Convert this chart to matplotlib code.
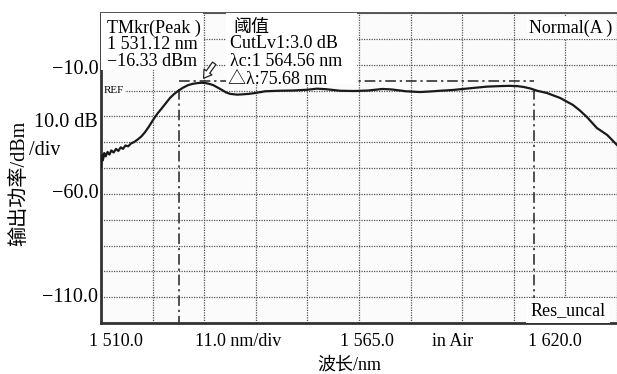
import matplotlib
matplotlib.use("Agg")
import matplotlib.pyplot as plt
from matplotlib.patches import Rectangle
import numpy as np

plt.rcParams['font.family'] = ['Liberation Serif', 'Noto Sans CJK SC']

# spectrum trace (nm, dBm)
wavelength = [1510.0, 1510.2, 1510.4, 1510.7, 1511.0, 1511.4, 1511.8, 1512.2,
              1512.7, 1513.2, 1513.7, 1514.2, 1514.7, 1515.2, 1515.8, 1516.4,
              1517.0, 1517.8, 1518.6, 1519.4, 1520.2, 1521.1, 1522.0, 1523.0,
              1524.0, 1524.7, 1525.5, 1526.4, 1527.5, 1528.6, 1529.6, 1530.7,
              1531.5, 1532.2, 1533.0, 1533.9, 1534.8, 1535.8, 1536.6, 1537.5,
              1539.0, 1540.1, 1541.5, 1542.8, 1545.0, 1548.0, 1551.0, 1554.0,
              1556.0, 1558.0, 1561.0, 1564.0, 1567.0, 1570.0, 1572.0, 1575.0,
              1578.0, 1580.0, 1582.3, 1585.0, 1587.2, 1590.0, 1592.3, 1595.0,
              1597.0, 1598.7, 1600.0, 1601.5, 1603.0, 1605.1, 1607.9, 1610.6,
              1612.0, 1613.6, 1615.7, 1617.9, 1620.0]
power = [-49.5, -45.0, -47.0, -44.2, -45.5, -43.8, -44.8, -43.2,
         -44.0, -42.6, -43.4, -42.0, -42.6, -41.3, -41.6, -40.5,
         -40.0, -39.0, -37.8, -36.1, -34.0, -31.4, -29.0, -26.8,
         -24.5, -22.9, -21.5, -20.2, -18.9, -17.9, -17.4, -17.1,
         -17.0, -17.1, -17.4, -17.9, -18.8, -19.8, -20.7, -21.3,
         -21.6, -21.5, -21.3, -21.0, -20.3, -20.1, -20.0, -19.7,
         -19.3, -19.5, -20.1, -20.2, -20.0, -19.4, -19.6, -20.3,
         -20.6, -20.4, -20.1, -19.8, -19.4, -18.9, -18.5, -18.3,
         -18.2, -18.3, -18.6, -19.2, -20.1, -21.0, -22.9, -25.6,
         -27.6, -30.3, -34.5, -37.2, -41.1]

peak_wl = 1531.12
peak_level = -16.33
cut_level = 3.0
center_wl = 1564.56
span_wl = 75.68

x_start = 1510.0
x_div = 11.0
y_top = 10.0
y_div = 10.0

ytick_pos = [-12, -60, -100]
ytick_txt = ['\u221210.0', '\u221260.0', '\u2212110.0']
xlab_pos = [0.029, 0.266, 0.516, 0.682, 0.880]
xlab_txt = ['1 510.0', '11.0 nm/div', '1 565.0', 'in Air', '1 620.0']

fig = plt.figure(figsize=(6.17, 3.74), dpi=100)
ax = fig.add_axes([101/617, 51/374, 516/617, 310/374])
ax.set_facecolor('#fbfbfb')

ax.set_xlim(x_start, x_start + 10 * x_div)
ax.set_ylim(y_top - 12 * y_div, y_top)
ax.set_xticks([x_start + k * x_div for k in range(11)])
ax.set_yticks([y_top - k * y_div for k in range(13)])
ax.tick_params(length=0, labelbottom=False, labelleft=False)
ax.grid(True, color='#555555', linestyle=(0, (1, 1)), linewidth=0.9)
ax.set_axisbelow(True)

for s in ['left', 'bottom']:
    ax.spines[s].set_linewidth(2.0)
    ax.spines[s].set_color('#333333')
ax.spines['top'].set_linewidth(1.4)
ax.spines['top'].set_color('#555555')
ax.spines['right'].set_visible(False)

# trace
ax.plot(wavelength, power, color='#1a1a1a', lw=1.6, zorder=3)

# threshold markers
left_wl = center_wl - span_wl / 2
right_wl = center_wl + span_wl / 2
dd = (0, (7, 2.5, 1.5, 2.5))
ax.plot([left_wl, right_wl], [peak_level, peak_level], color='#222222',
        lw=1.1, linestyle=dd, zorder=2)
for w in [left_wl, right_wl]:
    ax.plot([w, w], [peak_level - cut_level, y_top - 12 * y_div],
            color='#222222', lw=1.1, linestyle=dd, zorder=2)

# white info boxes
ax.add_patch(Rectangle((0.0, 0.815), 0.198, 0.185, transform=ax.transAxes,
                       facecolor='white', edgecolor='none', zorder=4))
ax.add_patch(Rectangle((0.242, 0.772), 0.254, 0.228, transform=ax.transAxes,
                       facecolor='white', edgecolor='none', zorder=4))

tk = dict(transform=ax.transAxes, fontsize=13, zorder=5, va='center', ha='left')
ax.text(0.011, 0.952, 'TMkr(Peak )', **tk)
ax.text(0.011, 0.897, '1 531.12 nm', **tk)
ax.text(0.011, 0.842, '\u221216.33 dBm', **tk)
ax.text(0.256, 0.952, '阈值', **tk)
ax.text(0.250, 0.901, 'CutLv1:3.0 dB', **tk)
ax.text(0.250, 0.844, '\u03bbc:1 564.56 nm', **tk)
ax.text(0.246, 0.787, '\u25b3\u03bb:75.68 nm', **tk)
ax.text(0.83, 0.952, 'Normal(A )', fontsize=13, transform=ax.transAxes,
        va='center', ha='left', zorder=5,
        bbox=dict(facecolor='white', edgecolor='none', pad=2))
ax.text(0.832, 0.04, 'Res_uncal', fontsize=13, transform=ax.transAxes,
        va='center', ha='left', zorder=5,
        bbox=dict(facecolor='white', edgecolor='none', pad=3))
ax.text(0.006, -20, 'REF', fontsize=8, va='center', ha='left', zorder=5,
        transform=ax.get_yaxis_transform(),
        bbox=dict(facecolor='white', edgecolor='none', pad=0.5))

# peak marker arrow
ax.annotate('', xy=(peak_wl + 0.4, peak_level + 0.2), xytext=(10, 14),
            textcoords='offset points', zorder=6,
            arrowprops=dict(arrowstyle='simple,head_length=0.55,head_width=0.7,tail_width=0.3',
                            fc='white', ec='#222222', lw=0.9))

# axis labels
ytr = ax.get_yaxis_transform()
for p, t in zip(ytick_pos, ytick_txt):
    ax.text(-0.005, p, t, transform=ytr, ha='right', va='center', fontsize=14.5)
ax.text(-0.13, 0.648, '10.0 dB', transform=ax.transAxes, ha='left',
        va='center', fontsize=14.5)
ax.text(-0.14, 0.555, '/div', transform=ax.transAxes, ha='left',
        va='center', fontsize=14.5)
for p, t in zip(xlab_pos, xlab_txt):
    ax.text(p, -0.061, t, transform=ax.transAxes, ha='center', va='center',
            fontsize=13)

fig.text(349/617, 1 - 365/374, '波长/nm', ha='center', va='center', fontsize=13)
fig.text(20/617, 1 - 183/374, '输出功率/dBm', ha='center', va='center',
         rotation=90, fontsize=14.5)

fig.savefig('out.png', dpi=100)
